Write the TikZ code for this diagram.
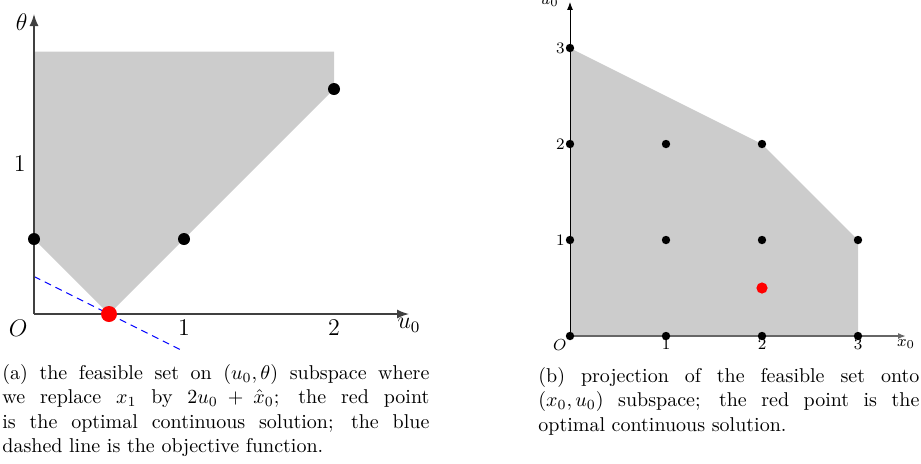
\documentclass[tikz,border=0pt]{standalone}
\usepackage{amsmath}
\usetikzlibrary{arrows.meta, positioning}

\begin{document}
\begin{tikzpicture}[
    axis/.style={-{Latex[length=6pt, width=4.5pt]}, line width=0.75pt, draw=black!75},
    raxis/.style={-{Latex[length=4pt, width=3pt]}, line width=0.5pt},
    region/.style={fill=black!20},
    dot/.style={circle, fill=black, inner sep=0pt, minimum size=6pt},
    opt/.style={circle, fill=red, inner sep=0pt, minimum size=8pt},
    rdot/.style={circle, fill=black, inner sep=0pt, minimum size=4.2pt},
    ropt/.style={circle, fill=red, inner sep=0pt, minimum size=5.6pt},
    obj/.style={blue, dash pattern=on 3.5pt off 2.5pt, line width=0.5pt},
    lab/.style={font=\large, inner sep=3pt},
    tick/.style={font=\footnotesize, inner sep=1.5pt},
    captext/.style={align=left, inner sep=0pt, anchor=north west,
                    font=\fontsize{10}{12.25}\selectfont},
]
\useasboundingbox (0,0) rectangle (460.5pt,-231.5pt);

% ---------- (a): feasible set on (u0, theta) ----------
\begin{scope}[shift={(17pt,-157pt)}, x=75pt, y=75pt]
\fill[region] (0,0.5) -- (0.5,0) -- (2,1.5) -- (2,1.75) -- (0,1.75) -- cycle;
\coordinate (oa)   at (0,0);
\coordinate (uend) at (2.5,0);
\coordinate (tend) at (0,2);
\coordinate (obja) at (0,0.25);
\coordinate (objb) at (1,-0.25);
\draw[obj]  (obja) -- (objb);
\draw[axis] (oa) -- (uend);
\draw[axis] (oa) -- (tend);

\node[lab, below left]           (olab) at (oa)     {$O$};
\node[lab, below]                (u1)   at (1,0)    {$1$};
\node[lab, below]                (u2)   at (2,0)    {$2$};
\node[lab, below, yshift=1pt]    (ulab) at (uend)   {$u_0$};
\node[lab, left, xshift=-1pt]    (t1)   at (0,1)    {$1$};
\node[lab, left, yshift=-4pt]    (tlab) at (tend)   {$\theta$};

\node[dot] (pa) at (0,0.5) {};
\node[dot] (pb) at (1,0.5) {};
\node[dot] (pc) at (2,1.5) {};
\node[opt] (sa) at (0.5,0) {};
\end{scope}

% ---------- (b): projection onto (x0, u0) ----------
\begin{scope}[shift={(285pt,-168pt)}, x=48pt, y=48pt]
\fill[region] (0,0) -- (3,0) -- (3,1) -- (2,2) -- (0,3) -- cycle;
\coordinate (ob)   at (0,0);
\coordinate (xend) at (3.5,0);
\coordinate (vend) at (0,3.48);
\draw[raxis, draw=black!60, line width=1pt] (ob) -- (xend);
\draw[raxis] (ob) -- (vend);

\node[tick, below left]          (oblab) at (ob)    {$O$};
\node[tick, below]               (x1)    at (1,0)   {$1$};
\node[tick, below]               (x2)    at (2,0)   {$2$};
\node[tick, below]               (x3)    at (3,0)   {$3$};
\node[tick, below]               (xlab)  at (xend)  {$x_0$};
\node[tick, left, xshift=-1pt]   (v1)    at (0,1)   {$1$};
\node[tick, left, xshift=-1pt]   (v2)    at (0,2)   {$2$};
\node[tick, left, xshift=-1pt]   (v3)    at (0,3)   {$3$};
\node[tick, left, xshift=-4pt]   (vlab)  at (vend)  {$u_0$};

\node[rdot] (q00) at (0,0) {};
\node[rdot] (q10) at (1,0) {};
\node[rdot] (q20) at (2,0) {};
\node[rdot] (q30) at (3,0) {};
\node[rdot] (q01) at (0,1) {};
\node[rdot] (q11) at (1,1) {};
\node[rdot] (q21) at (2,1) {};
\node[rdot] (q31) at (3,1) {};
\node[rdot] (q02) at (0,2) {};
\node[rdot] (q12) at (1,2) {};
\node[rdot] (q22) at (2,2) {};
\node[rdot] (q03) at (0,3) {};
\node[ropt] (sb)  at (2,0.5) {};
\end{scope}

% ---------- captions ----------
\node[captext] (capa) at (1pt,-182pt)
    {\makebox[213.5pt][s]{(a) the feasible set on $(u_0,\theta)$ subspace where}\\
     \makebox[213.5pt][s]{we replace $x_1$ by $2u_0+\hat{x}_0$; the red point}\\
     \makebox[213.5pt][s]{is the optimal continuous solution; the blue}\\
     dashed line is the objective function.};
\node[captext] (capb) at (269pt,-183.5pt)
    {\makebox[190.5pt][s]{(b) projection of the feasible set onto}\\
     \makebox[190.5pt][s]{$(x_0,u_0)$ subspace; the red point is the}\\
     optimal continuous solution.};

\end{tikzpicture}
\end{document}
